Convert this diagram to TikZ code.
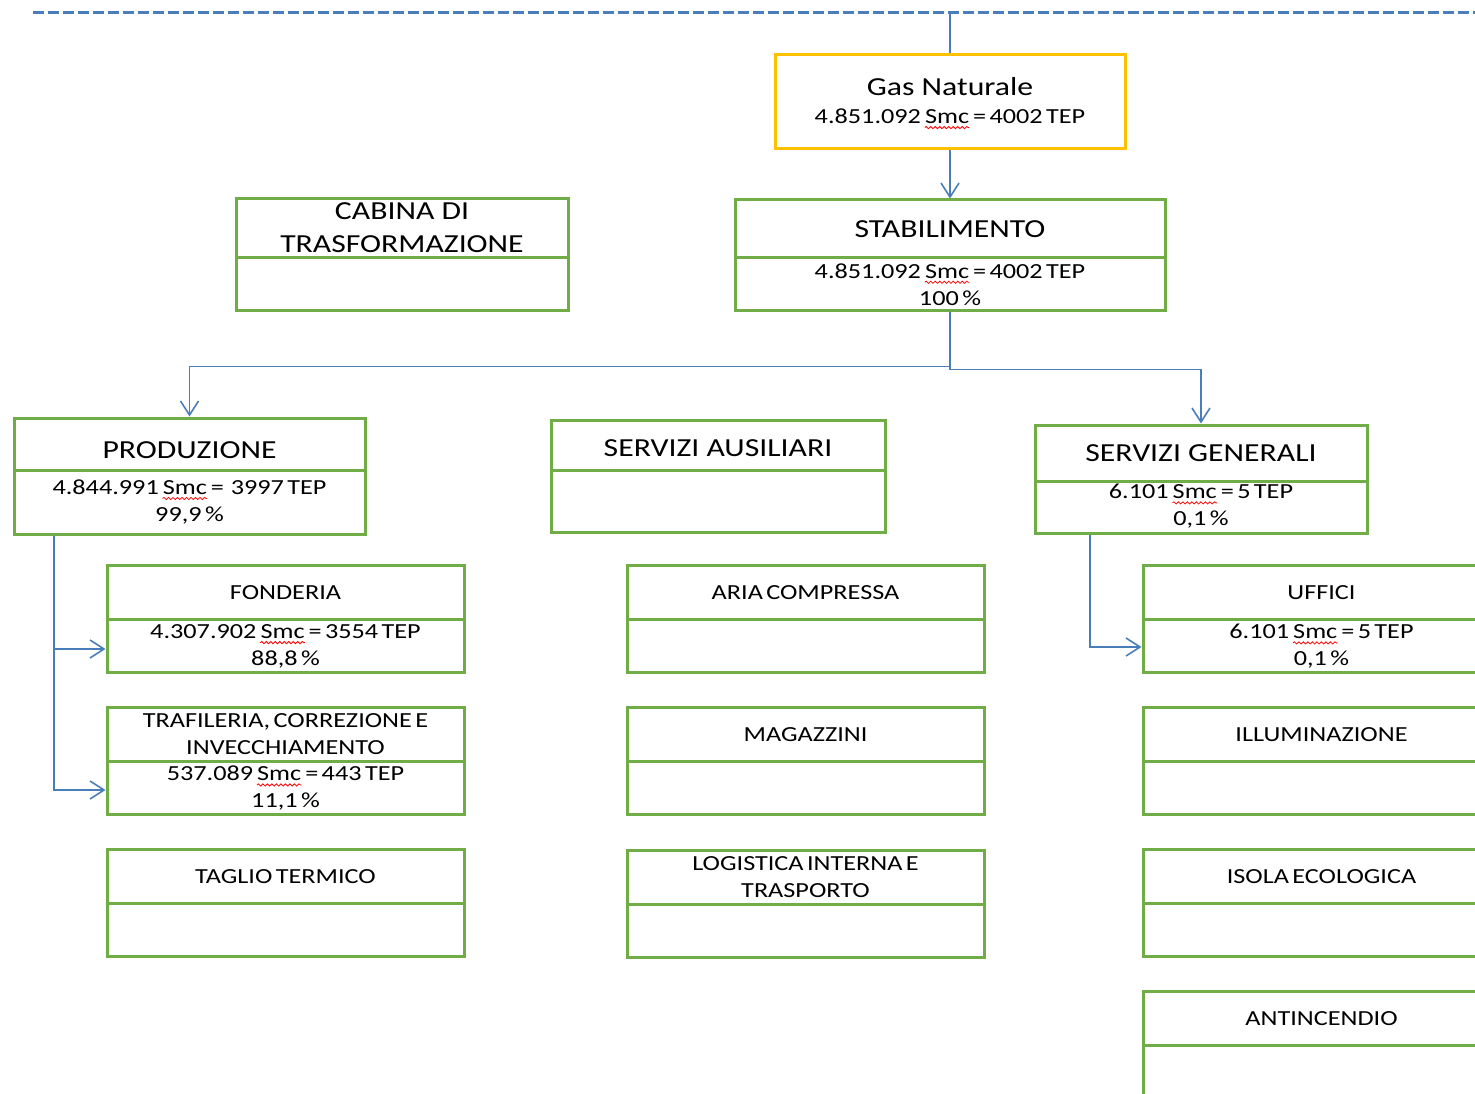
\documentclass[tikz,border=0pt]{standalone}
\usepackage{fontspec}
\setmainfont{Carlito}[FakeStretch=1.22]
\usetikzlibrary{arrows.meta,positioning,decorations.pathmorphing}

\definecolor{boxgreen}{HTML}{70AD47}
\definecolor{pipeblue}{HTML}{4A7EBB}
\definecolor{gasgold}{HTML}{FFC000}

\newcommand\tightsp{\spaceskip=3.4pt plus 1pt\relax}
\newcommand\smc{\tikz[baseline=(w.base)]{\node[inner sep=0pt] (w) {Smc};
    \draw[red,line width=0.8pt,decorate,decoration={snake,amplitude=1.1pt,segment length=4.5pt}]
        ([yshift=-4pt]w.base west) -- ([yshift=-4pt]w.base east);}}

\begin{document}
\begin{tikzpicture}[x=1pt,y=-1pt]
        \useasboundingbox (0,0) rectangle (1475,1094);
        \clip (0,0) rectangle (1475,1094);

        \tikzstyle{unitbox}=[draw=boxgreen,line width=3pt,inner sep=0pt]
        \tikzstyle{gasbox}=[draw=gasgold,line width=3pt,inner sep=0pt]
        \tikzstyle{divline}=[draw=boxgreen,line width=3pt]
        \tikzstyle{headtxt}=[font=\fontsize{26}{33}\selectfont,align=center,inner sep=0pt]
        \tikzstyle{datatxt}=[font=\fontsize{21.5}{27}\selectfont\tightsp,align=center,inner sep=0pt]
        \tikzstyle{boundary}=[draw=pipeblue,line width=3pt,dash pattern=on 11pt off 4pt]
        \tikzstyle{pipe}=[draw=pipeblue,line width=1.6pt]
        \tikzstyle{feedarrow}=[pipe,-{Straight Barb[length=14pt,width=18pt]}]

        % dashed boundary on top
        \coordinate (edgeL) at (33,13);
        \coordinate (edgeR) at (1475,13);
        \coordinate (supply) at (950,13);
        \draw[boundary] (edgeL) -- (edgeR);

        % gas source
        \node[gasbox,minimum width=350pt,minimum height=94pt] (gas) at (950,102) {};
        \node[headtxt] (gasT) at (950,87) {Gas Naturale};
        \node[datatxt] (gasV) at (950,119) {4.851.092 \smc{} = 4002 TEP};

        % main boxes
        \foreach \id/\cx/\cy/\w/\h/\dv/\ty/\title/\vy/\val in {
            cab/402/254.5/332/111/257/228/{CABINA DI\\TRASFORMAZIONE}/284/{},
            stab/950/255/430/110/257/229/STABILIMENTO/284.5/{4.851.092 \smc{} = 4002 TEP\\100 \%},
            prod/189.5/476/351/116/470/450/PRODUZIONE/502/{4.844.991 \smc{} =\ \ 3997 TEP\\99,9 \%},
            aus/718/476/334/112/470/448/SERVIZI AUSILIARI/501/{},
            gen/1201/479/332/108/481/453/SERVIZI GENERALI/506.5/{6.101 \smc{} = 5 TEP\\0,1 \%}} {
            \node[unitbox,minimum width=\w pt,minimum height=\h pt] (\id) at (\cx,\cy) {};
            \draw[divline] (\id.west |- 0,\dv) -- (\id.east |- 0,\dv);
            \node[headtxt] (\id T) at (\cx,\ty) {\title};
            \node[datatxt] (\id V) at (\cx,\vy) {\val};
        }

        % sub boxes
        \foreach \id/\cx/\top/\title/\val in {
            fond/285.5/565/FONDERIA/{4.307.902 \smc{} = 3554 TEP\\88,8 \%},
            traf/285.5/707/{TRAFILERIA, CORREZIONE E\\INVECCHIAMENTO}/{537.089 \smc{} = 443 TEP\\11,1 \%},
            tagl/285.5/849/TAGLIO TERMICO/{},
            aria/805.5/565/ARIA COMPRESSA/{},
            magz/805.5/707/MAGAZZINI/{},
            logi/805.5/850/{LOGISTICA INTERNA E\\TRASPORTO}/{},
            uff/1321.5/565/UFFICI/{6.101 \smc{} = 5 TEP\\0,1 \%},
            illu/1321.5/707/ILLUMINAZIONE/{},
            isol/1321.5/849/ISOLA ECOLOGICA/{},
            anti/1321.5/991/ANTINCENDIO/{}} {
            \node[unitbox,minimum width=357pt,minimum height=107pt] (\id) at (\cx,\top+53.5) {};
            \draw[divline] (\id.west |- 0,\top+54) -- (\id.east |- 0,\top+54);
            \node[datatxt] (\id T) at (\cx,\top+27.5) {\title};
            \node[datatxt] (\id V) at (\cx,\top+81.5) {\val};
        }

        \draw[pipe] (supply) -- (gas.north);                              % rete -> gas
        \draw[feedarrow] (gas.south) -- (stab.north);                     % gas -> stabilimento
        \draw[feedarrow] (stab.south) -- ++(0,55) -| (prod.north);        % stabilimento -> produzione
        \draw[feedarrow] (stab.south) -- ++(0,58) -| (gen.north);         % stabilimento -> servizi generali
        \draw[feedarrow] (prod.south -| 54,0) |- (fond.west |- 0,649);    % produzione -> fonderia
        \draw[feedarrow] (prod.south -| 54,0) |- (traf.west |- 0,790);    % produzione -> trafileria
        \draw[feedarrow] (gen.south -| 1090,0) |- (uff.west |- 0,647);    % servizi generali -> uffici

\end{tikzpicture}
\end{document}
